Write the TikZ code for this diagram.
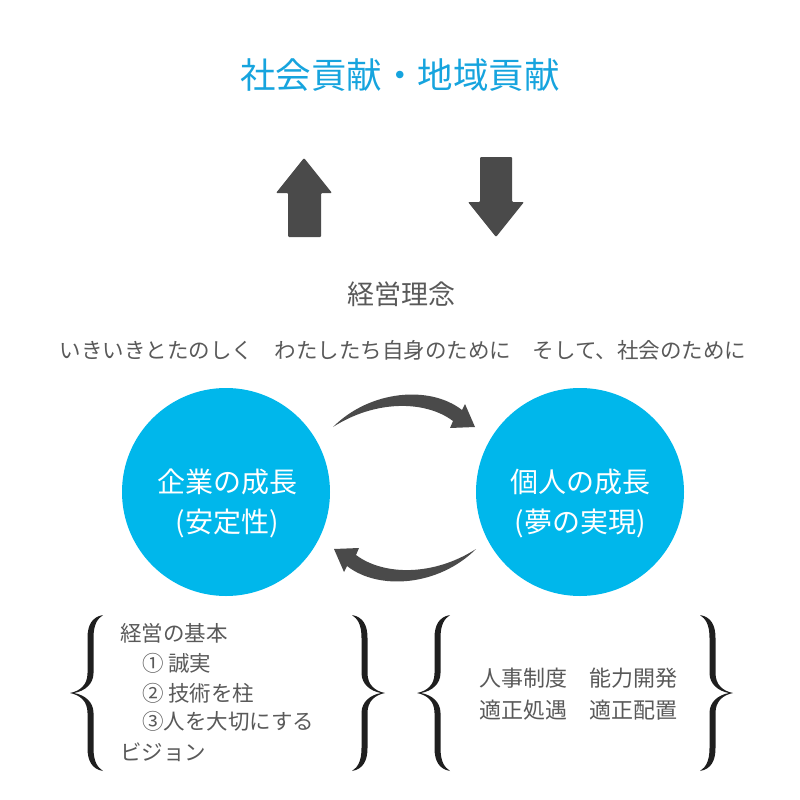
\documentclass[tikz,border=0pt]{standalone}
\usepackage{fontspec}
\setmainfont{Noto Sans CJK JP}
\definecolor{titlecyan}{RGB}{22,164,222}
\definecolor{circcyan}{RGB}{0,183,235}
\definecolor{arrowgray}{RGB}{74,74,74}
\definecolor{textgray}{RGB}{89,89,89}
\tikzset{
  circ/.style={circle, fill=circcyan, minimum size=208pt, inner sep=0pt},
  circtext/.style={text=white, align=center, inner sep=0pt, font=\fontsize{28}{40}\selectfont},
  blockarrow/.style={fill=arrowgray, rounded corners=1pt},
  curvearrow/.style={fill=arrowgray},
  graytext/.style={text=textgray, inner sep=0pt},
  listtext/.style={text=textgray, inner sep=0pt, anchor=west, font=\fontsize{21.5}{24}\selectfont},
  bracefill/.style={fill=black!88},
  pics/lbr/.style={code={
    \fill[bracefill] (33,-78) .. controls (22,-76) and (17.5,-68) .. (17.5,-55) -- (17.5,-20)
      .. controls (17.5,-8) and (10,-2) .. (0,0)
      .. controls (10,2) and (17.5,8) .. (17.5,20) -- (17.5,55)
      .. controls (17.5,68) and (22,76) .. (33,78)
      .. controls (27,74) and (23.5,68) .. (23.5,55) -- (23.5,20)
      .. controls (23.5,9) and (15,2) .. (4,0)
      .. controls (15,-2) and (23.5,-9) .. (23.5,-20) -- (23.5,-55)
      .. controls (23.5,-68) and (27,-74) .. (33,-78) -- cycle;
  }}
}
\begin{document}
\begin{tikzpicture}[x=1pt,y=-1pt]
\useasboundingbox (0,0) rectangle (800,800);

% title
\node[inner sep=0pt, text=titlecyan, font=\fontsize{35.5}{40}\selectfont] (title) at (400,75) {社会貢献・地域貢献};

% block arrows
\fill[blockarrow] (276,193) -- (304,158) -- (332,193) -- (321,193) -- (321,237) -- (288,237) -- (288,193) -- cycle;
\fill[blockarrow] (480,157) -- (512,157) -- (512,202) -- (524,202) -- (496,237) -- (468,202) -- (480,202) -- cycle;

% philosophy
\node[graytext, font=\fontsize{27}{32}\selectfont] (rinen) at (401.5,294) {経営理念};
\node[graytext, font=\fontsize{21.5}{26}\selectfont] (motto) at (403,350) {いきいきとたのしく　わたしたち自身のために　そして、社会のために};

% circles
\node[circ] (c1) at (226,492) {};
\node[circ] (c2) at (580,492) {};
\node[circtext] (t1) at (227,503) {企業の成長\\(安定性)};
\node[circtext] (t2) at (580,503) {個人の成長\\(夢の実現)};

% curved arrows
\fill[curvearrow] (333,427) .. controls (370,390) and (430,385) .. (462,410) -- (465,404) -- (475,427) -- (450,428) -- (453,421) .. controls (425,400) and (375,400) .. (333,427) -- cycle;
\fill[curvearrow] (476,549) .. controls (439,586) and (379,591) .. (347,566) -- (344,572) -- (334,549) -- (359,548) -- (356,555) .. controls (384,576) and (434,576) .. (476,549) -- cycle;

% braces
\pic at (70,693) {lbr};
\pic[xscale=-1] at (385,693) {lbr};
\pic at (417,693) {lbr};
\pic[xscale=-1] at (733,693) {lbr};

% left list
\node[listtext] (l1) at (120,633) {経営の基本};
\node[listtext] (l2) at (142,663) {① 誠実};
\node[listtext] (l3) at (142,693) {② 技術を柱};
\node[listtext] (l4) at (142,721) {③人を大切にする};
\node[listtext] (l5) at (120,752) {ビジョン};

% right list
\node[graytext, font=\fontsize{22}{24}\selectfont] (r1) at (578,678) {人事制度　能力開発};
\node[graytext, font=\fontsize{22}{24}\selectfont] (r2) at (578,710) {適正処遇　適正配置};
\end{tikzpicture}
\end{document}
